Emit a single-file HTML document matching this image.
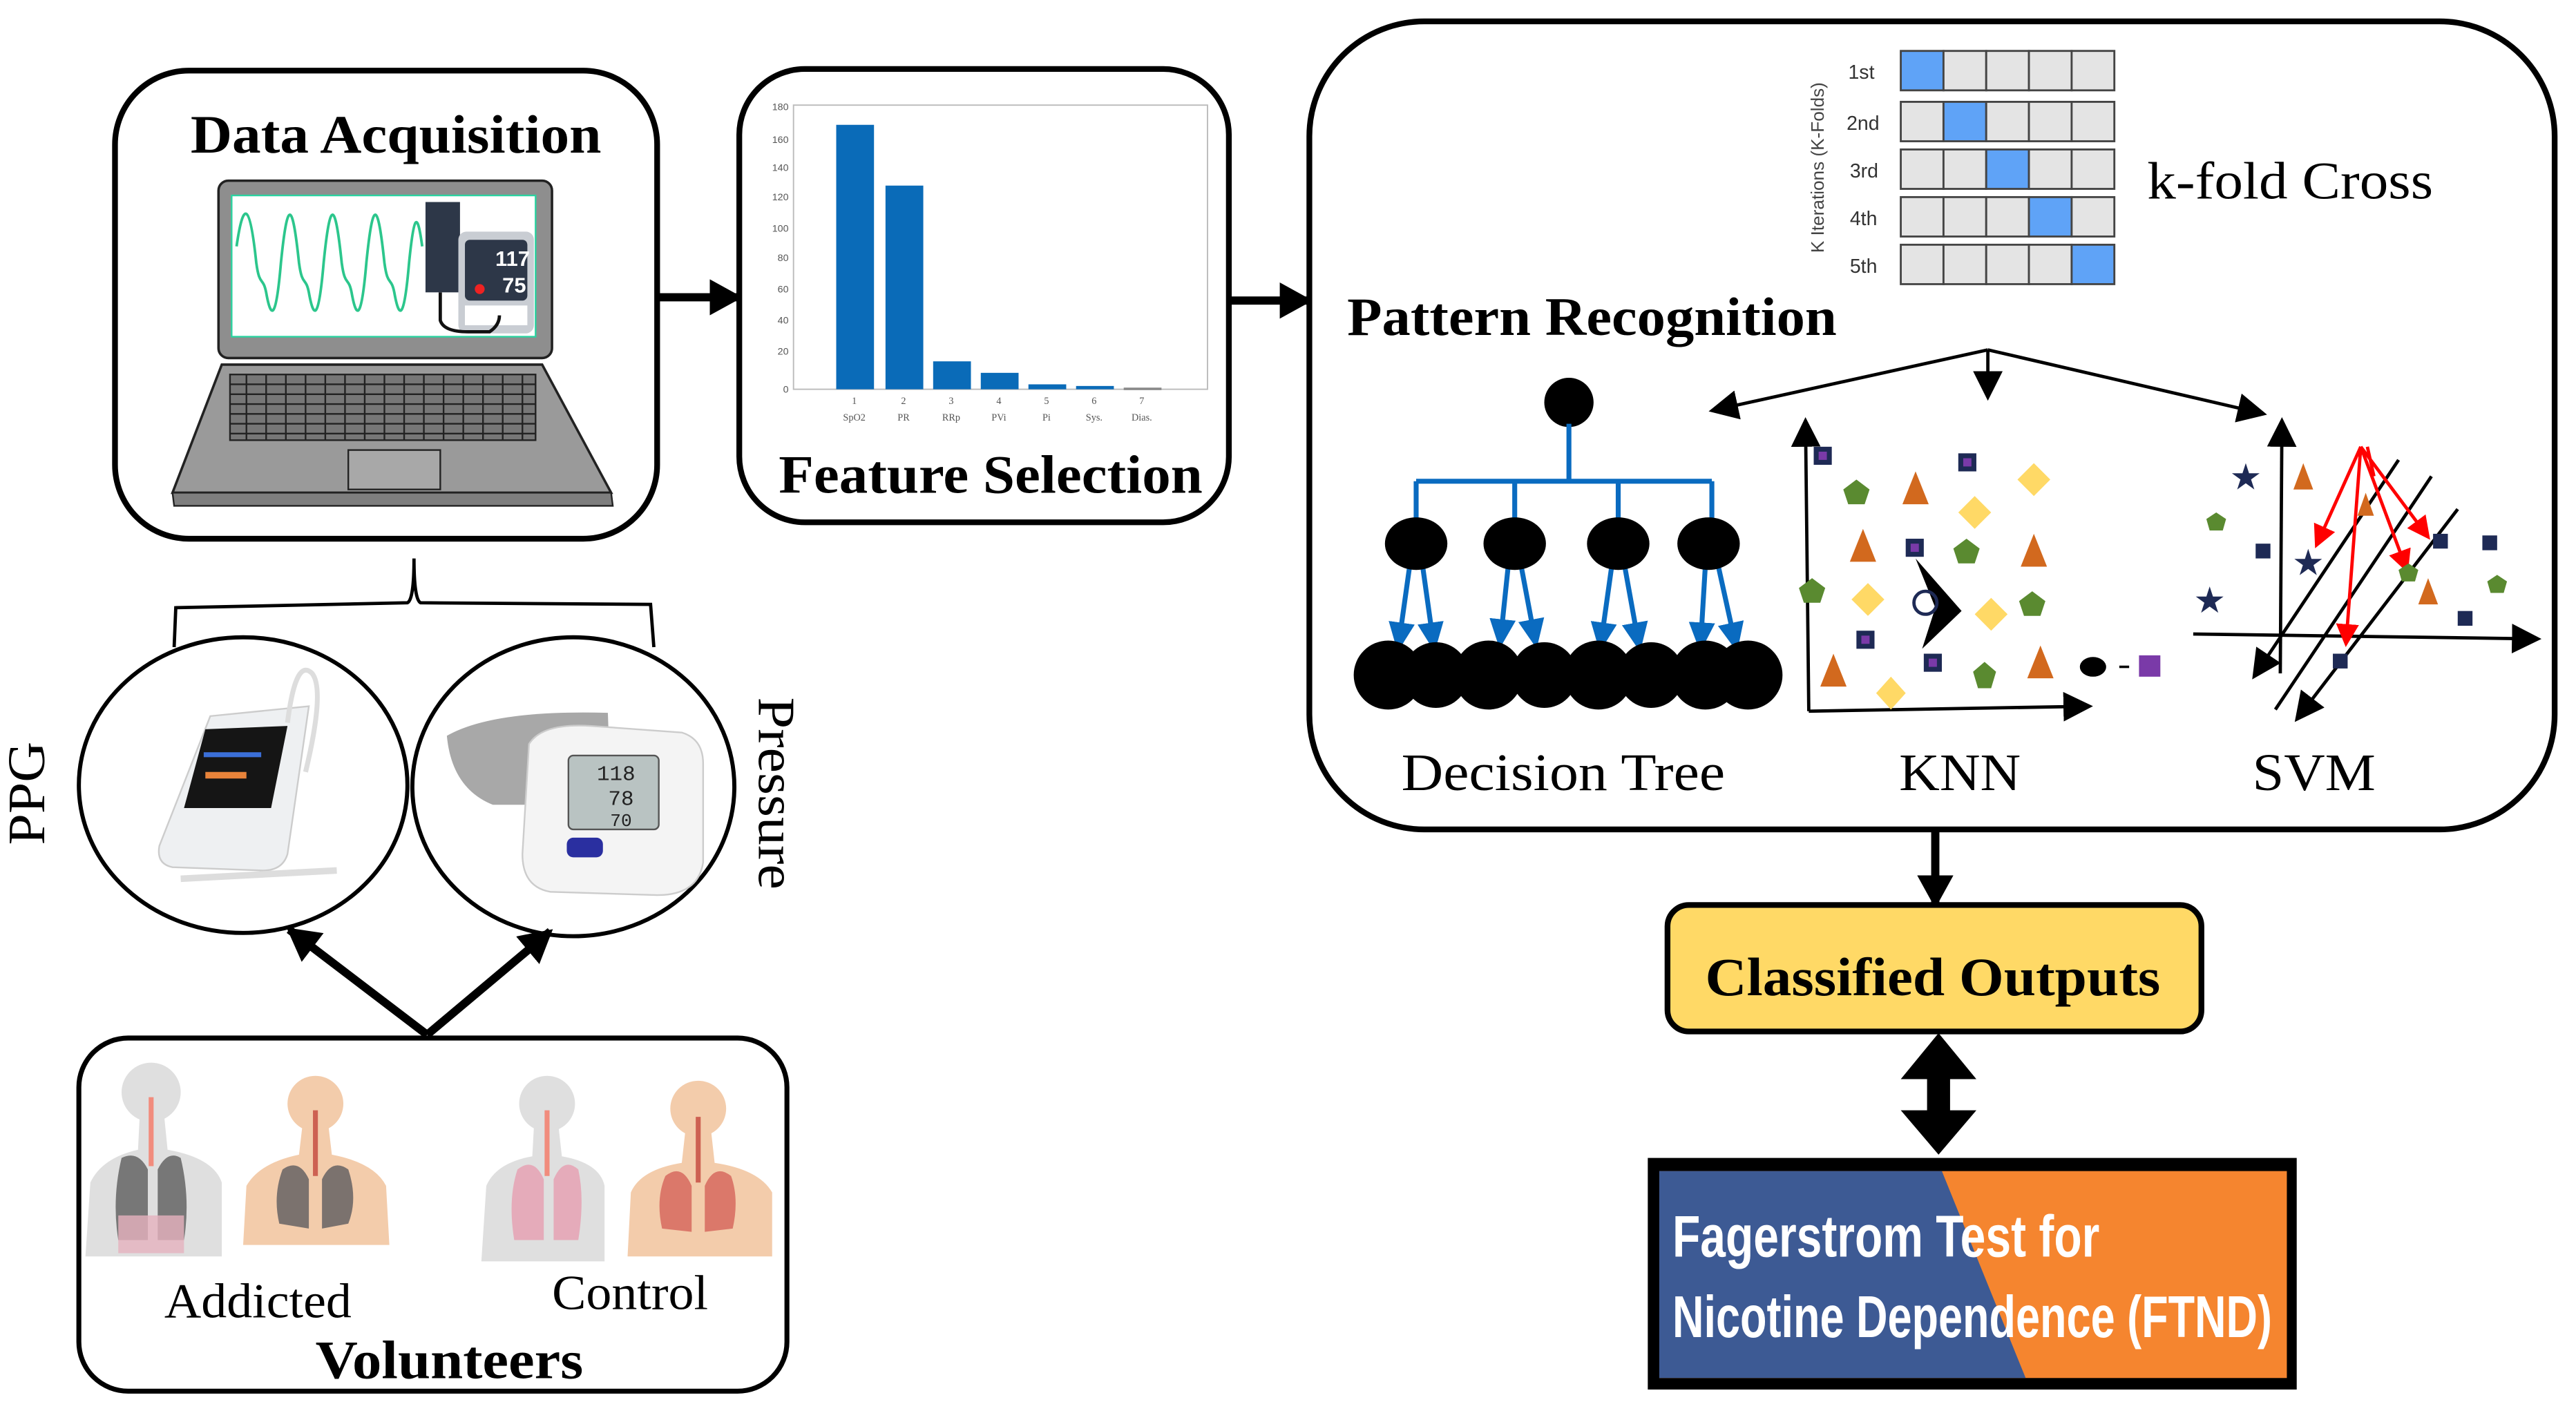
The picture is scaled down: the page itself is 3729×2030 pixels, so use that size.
<!DOCTYPE html>
<html><head><meta charset="utf-8"><style>html,body{margin:0;padding:0;background:#fff}svg{display:block}</style></head>
<body>
<svg width="3729" height="2030" viewBox="0 0 1568 853.6" preserveAspectRatio="none" xmlns="http://www.w3.org/2000/svg" font-family="Liberation Serif, serif">
<defs>
<marker id="ab" markerWidth="20" markerHeight="22" refX="18" refY="11" orient="auto" markerUnits="userSpaceOnUse"><path d="M0,0 L20,11 L0,22z" fill="#000"/></marker>
<marker id="am" markerWidth="18" markerHeight="18" refX="16" refY="9" orient="auto" markerUnits="userSpaceOnUse"><path d="M0,0 L18,9 L0,18z" fill="#000"/></marker>
<marker id="abl" markerWidth="18" markerHeight="16" refX="16" refY="8" orient="auto" markerUnits="userSpaceOnUse"><path d="M0,0 L18,8 L0,16z" fill="#0a6bc0"/></marker>
<marker id="ar" markerWidth="14" markerHeight="14" refX="12" refY="7" orient="auto" markerUnits="userSpaceOnUse"><path d="M0,0 L14,7 L0,14z" fill="#f00"/></marker>
</defs>

<!-- Data Acquisition -->
<rect x="70" y="43" width="330" height="285" rx="45" fill="#fff" stroke="#000" stroke-width="3.5"/>
<text x="116" y="93" font-size="33" font-weight="bold" textLength="250" lengthAdjust="spacingAndGlyphs">Data Acquisition</text>
<!-- laptop -->
<rect x="133" y="110" width="203" height="108" rx="6" fill="#8e8e8e" stroke="#222" stroke-width="1.5"/>
<rect x="141" y="119" width="185" height="86" fill="#fff" stroke="#2bd3a0" stroke-width="1"/>
<path d="M144,150 C148,122 152,122 156,160 C158,175 160,168 162,178 C165,195 168,195 171,160 C175,120 178,122 182,160 C184,175 186,168 188,178 C191,195 194,195 197,160 C201,120 204,122 208,160 C210,175 212,168 214,178 C217,195 220,195 223,160 C227,120 230,122 234,160 C236,175 238,168 240,178 C243,195 246,195 249,160 C252,130 254,128 257,150" fill="none" stroke="#2cc68c" stroke-width="1.6"/>
<rect x="259" y="123" width="21" height="55" fill="#2d3748"/>
<rect x="279" y="141" width="46" height="62" rx="5" fill="#c9cdd3"/>
<rect x="283" y="146" width="38" height="37" rx="3" fill="#2d3748"/>
<text x="312" y="162" font-family="Liberation Sans Narrow, Liberation Sans, sans-serif" font-size="13" font-weight="bold" fill="#fff" text-anchor="middle">117</text>
<text x="313" y="178" font-family="Liberation Sans Narrow, Liberation Sans, sans-serif" font-size="13" font-weight="bold" fill="#fff" text-anchor="middle">75</text>
<circle cx="292" cy="176" r="3" fill="#e22"/>
<rect x="283" y="186" width="38" height="12" fill="#fff"/>
<path d="M268,178 L268,195 Q270,202 285,202 L298,202 Q304,198 304,192" fill="none" stroke="#111" stroke-width="2"/>
<path d="M135,222 L330,222 L372,300 L105,300 Z" fill="#9a9a9a" stroke="#222" stroke-width="1.5"/>
<path d="M105,300 L372,300 L373,308 L106,308 Z" fill="#7e7e7e" stroke="#222" stroke-width="1"/>
<g stroke="#222" stroke-width="1" fill="none">
<rect x="140" y="228" width="186" height="40" fill="#777"/>
<path d="M140,234h186M140,240h186M140,246h186M140,252h186M140,258h186M140,264h186"/>
<path d="M150,228v40M162,228v40M174,228v40M186,228v40M198,228v40M210,228v40M222,228v40M234,228v40M246,228v40M258,228v40M270,228v40M282,228v40M294,228v40M306,228v40M318,228v40"/>
<rect x="212" y="274" width="56" height="24" fill="#a8a8a8"/>
</g>

<line x1="400" y1="181" x2="450" y2="181" stroke="#000" stroke-width="5" marker-end="url(#ab)"/>

<!-- Feature Selection -->
<rect x="450" y="42" width="298" height="276" rx="40" fill="#fff" stroke="#000" stroke-width="3.5"/>
<rect x="483" y="64" width="252" height="173" fill="none" stroke="#bbb" stroke-width="0.8"/>
<g font-family="Liberation Sans, sans-serif" font-size="6" fill="#555" text-anchor="end">
<text x="480" y="67">180</text><text x="480" y="87">160</text><text x="480" y="104">140</text><text x="480" y="122">120</text><text x="480" y="141">100</text><text x="480" y="159">80</text><text x="480" y="178">60</text><text x="480" y="197">40</text><text x="480" y="216">20</text><text x="480" y="239">0</text>
</g>
<g fill="#0a6bb8">
<rect x="509" y="76" width="23" height="161"/><rect x="539" y="113" width="23" height="124"/><rect x="568" y="220" width="23" height="17"/><rect x="597" y="227" width="23" height="10"/><rect x="626" y="234" width="23" height="3"/><rect x="655" y="235" width="23" height="2"/><rect x="684" y="236" width="23" height="1.5" fill="#888"/>
</g>
<g font-size="6" fill="#555" text-anchor="middle">
<text x="520" y="246">1</text><text x="550" y="246">2</text><text x="579" y="246">3</text><text x="608" y="246">4</text><text x="637" y="246">5</text><text x="666" y="246">6</text><text x="695" y="246">7</text>
<text x="520" y="256">SpO2</text><text x="550" y="256">PR</text><text x="579" y="256">RRp</text><text x="608" y="256">PVi</text><text x="637" y="256">Pi</text><text x="666" y="256">Sys.</text><text x="695" y="256">Dias.</text>
</g>
<text x="474" y="300" font-size="33" font-weight="bold" textLength="258" lengthAdjust="spacingAndGlyphs">Feature Selection</text>

<line x1="748" y1="183" x2="797" y2="183" stroke="#000" stroke-width="5" marker-end="url(#ab)"/>

<!-- Pattern Recognition -->
<rect x="797" y="13" width="758" height="492" rx="70" fill="#fff" stroke="#000" stroke-width="3.5"/>
<text x="1110" y="102" font-family="Liberation Sans, sans-serif" font-size="11" fill="#444" text-anchor="middle" transform="rotate(-90 1110 102)">K Iterations (K-Folds)</text>
<g font-family="Liberation Sans, sans-serif" font-size="12" fill="#333">
<text x="1125" y="48">1st</text><text x="1124" y="79">2nd</text><text x="1126" y="108">3rd</text><text x="1126" y="137">4th</text><text x="1126" y="166">5th</text>
</g>
<g stroke="#444" stroke-width="1.2" fill="#e4e4e4">
<g transform="translate(1157,31)"><rect width="26" height="24" fill="#5fa3f7"/><rect x="26" width="26" height="24"/><rect x="52" width="26" height="24"/><rect x="78" width="26" height="24"/><rect x="104" width="26" height="24"/></g>
<g transform="translate(1157,62)"><rect width="26" height="24"/><rect x="26" width="26" height="24" fill="#5fa3f7"/><rect x="52" width="26" height="24"/><rect x="78" width="26" height="24"/><rect x="104" width="26" height="24"/></g>
<g transform="translate(1157,91)"><rect width="26" height="24"/><rect x="26" width="26" height="24"/><rect x="52" width="26" height="24" fill="#5fa3f7"/><rect x="78" width="26" height="24"/><rect x="104" width="26" height="24"/></g>
<g transform="translate(1157,120)"><rect width="26" height="24"/><rect x="26" width="26" height="24"/><rect x="52" width="26" height="24"/><rect x="78" width="26" height="24" fill="#5fa3f7"/><rect x="104" width="26" height="24"/></g>
<g transform="translate(1157,149)"><rect width="26" height="24"/><rect x="26" width="26" height="24"/><rect x="52" width="26" height="24"/><rect x="78" width="26" height="24"/><rect x="104" width="26" height="24" fill="#5fa3f7"/></g>
</g>
<text x="1307" y="121" font-size="32" textLength="174" lengthAdjust="spacingAndGlyphs">k-fold Cross</text>
<text x="820" y="204" font-size="33" font-weight="bold" textLength="298" lengthAdjust="spacingAndGlyphs">Pattern Recognition</text>

<g stroke="#000" stroke-width="2" fill="none">
<line x1="1210" y1="213" x2="1042" y2="250" marker-end="url(#am)"/>
<line x1="1210" y1="213" x2="1210" y2="242" marker-end="url(#am)"/>
<line x1="1210" y1="213" x2="1378" y2="252" marker-end="url(#am)"/>
</g>

<!-- Decision Tree -->
<ellipse cx="955" cy="245" rx="15" ry="15"/>
<g stroke="#0a6bc0" stroke-width="3" fill="none">
<path d="M955,258 V293 M862,293 H1042 M862,293 V318 M922,293 V318 M985,293 V318 M1042,293 V318"/>
<g stroke-width="3">
<line x1="858" y1="345" x2="851" y2="395" marker-end="url(#abl)"/><line x1="866" y1="345" x2="873" y2="395" marker-end="url(#abl)"/>
<line x1="918" y1="345" x2="913" y2="393" marker-end="url(#abl)"/><line x1="926" y1="345" x2="935" y2="393" marker-end="url(#abl)"/>
<line x1="981" y1="345" x2="974" y2="395" marker-end="url(#abl)"/><line x1="989" y1="345" x2="998" y2="395" marker-end="url(#abl)"/>
<line x1="1038" y1="345" x2="1035" y2="395" marker-end="url(#abl)"/><line x1="1046" y1="345" x2="1057" y2="395" marker-end="url(#abl)"/>
</g></g>
<g fill="#000">
<ellipse cx="862" cy="331" rx="19" ry="16"/><ellipse cx="922" cy="331" rx="19" ry="16"/><ellipse cx="985" cy="331" rx="19" ry="16"/><ellipse cx="1040" cy="331" rx="19" ry="16"/>
<circle cx="845" cy="411" r="21"/><circle cx="874" cy="411" r="20"/><circle cx="906" cy="411" r="21"/><circle cx="940" cy="411" r="20"/><circle cx="973" cy="411" r="21"/><circle cx="1005" cy="411" r="20"/><circle cx="1038" cy="411" r="21"/><circle cx="1064" cy="411" r="21"/>
</g>
<text x="853" y="481" font-size="32" textLength="197" lengthAdjust="spacingAndGlyphs">Decision Tree</text>

<!-- KNN -->
<g stroke="#000" stroke-width="2" fill="none">
<line x1="1101" y1="433" x2="1099" y2="256" marker-end="url(#am)"/>
<line x1="1101" y1="433" x2="1272" y2="430" marker-end="url(#am)"/>
</g>
<g>
<g fill="#1e2a55"><rect x="1104" y="272" width="11" height="11"/><rect x="1192" y="276" width="11" height="11"/><rect x="1160" y="328" width="11" height="11"/><rect x="1130" y="384" width="11" height="11"/><rect x="1171" y="398" width="11" height="11"/></g>
<g fill="#7a3aa8"><rect x="1107" y="275" width="5" height="5"/><rect x="1195" y="279" width="5" height="5"/><rect x="1163" y="331" width="5" height="5"/><rect x="1133" y="387" width="5" height="5"/><rect x="1174" y="401" width="5" height="5"/><rect x="1302" y="399" width="13" height="13"/></g>
<g fill="#5a8a30"><path d="M1130,292 l8,6 -3,9 -10,0 -3,-9z"/><path d="M1103,352 l8,6 -3,9 -10,0 -3,-9z"/><path d="M1197,328 l8,6 -3,9 -10,0 -3,-9z"/><path d="M1237,360 l8,6 -3,9 -10,0 -3,-9z"/><path d="M1208,403 l7,6 -3,10 -8,0 -3,-10z"/></g>
<g fill="#d2691e"><path d="M1166,287 l8,20 -16,0z"/><path d="M1134,322 l8,20 -16,0z"/><path d="M1238,325 l8,20 -16,0z"/><path d="M1116,398 l8,20 -16,0z"/><path d="M1242,393 l8,20 -16,0z"/></g>
<g fill="#ffd966"><path d="M1238,282 l10,10 -10,10 -10,-10z"/><path d="M1202,302 l10,10 -10,10 -10,-10z"/><path d="M1137,355 l10,10 -10,10 -10,-10z"/><path d="M1212,364 l10,10 -10,10 -10,-10z"/><path d="M1151,412 l9,10 -9,10 -9,-10z"/></g>
<path d="M1166,340 L1194,372 L1170,395 L1178,370 Z" fill="#000"/>
<circle cx="1172" cy="367" r="7" fill="none" stroke="#1e2a55" stroke-width="2"/>
<ellipse cx="1274" cy="406" rx="8" ry="6" fill="#000"/>
<line x1="1290" y1="406" x2="1296" y2="406" stroke="#000" stroke-width="1.5"/>
</g>
<text x="1156" y="481" font-size="32" textLength="74" lengthAdjust="spacingAndGlyphs">KNN</text>

<!-- SVM -->
<g stroke="#000" stroke-width="2" fill="none">
<line x1="1388" y1="410" x2="1389" y2="256" marker-end="url(#am)"/>
<line x1="1335" y1="386" x2="1545" y2="389" marker-end="url(#am)"/>
<line x1="1460" y1="280" x2="1372" y2="412" marker-end="url(#am)"/>
<line x1="1480" y1="290" x2="1385" y2="432"/>
<line x1="1496" y1="310" x2="1398" y2="438" marker-end="url(#am)"/>
</g>
<g stroke="#f00" stroke-width="2">
<line x1="1437" y1="272" x2="1410" y2="332" marker-end="url(#ar)"/>
<line x1="1437" y1="272" x2="1428" y2="392" marker-end="url(#ar)"/>
<line x1="1437" y1="272" x2="1465" y2="347" marker-end="url(#ar)"/>
<line x1="1437" y1="272" x2="1478" y2="327" marker-end="url(#ar)"/>
<line x1="1441" y1="272" x2="1445" y2="290"/>
</g>
<g fill="#1e2a55">
<text x="1367" y="298" font-size="22" text-anchor="middle" font-family="DejaVu Sans, sans-serif">★</text>
<text x="1405" y="350" font-size="22" text-anchor="middle" font-family="DejaVu Sans, sans-serif">★</text>
<text x="1345" y="373" font-size="22" text-anchor="middle" font-family="DejaVu Sans, sans-serif">★</text>
<rect x="1373" y="331" width="9" height="9"/><rect x="1481" y="325" width="9" height="9"/><rect x="1511" y="326" width="9" height="9"/><rect x="1496" y="372" width="9" height="9"/><rect x="1420" y="398" width="9" height="9"/>
</g>
<g fill="#d2691e"><path d="M1402,282 l6,16 -12,0z"/><path d="M1478,352 l6,16 -12,0z"/><path d="M1440,300 l5,14 -10,0z"/></g>
<g fill="#5a8a30"><path d="M1349,312 l6,4 -2,7 -8,0 -2,-7z"/><path d="M1466,343 l6,4 -2,7 -8,0 -2,-7z"/><path d="M1520,350 l6,4 -2,7 -8,0 -2,-7z"/></g>
<text x="1371" y="481" font-size="32" textLength="75" lengthAdjust="spacingAndGlyphs">SVM</text>

<line x1="1178" y1="505" x2="1178" y2="551" stroke="#000" stroke-width="5" marker-end="url(#ab)"/>
<rect x="1015" y="551" width="325" height="77" rx="13" fill="#ffd966" stroke="#000" stroke-width="3.5"/>
<text x="1038" y="606" font-size="33" font-weight="bold" textLength="277" lengthAdjust="spacingAndGlyphs">Classified Outputs</text>
<path d="M1180,629 L1203,657 L1187,657 L1187,676 L1203,676 L1180,703 L1157,676 L1173,676 L1173,657 L1157,657 Z" fill="#000"/>

<!-- FTND -->
<rect x="1003" y="705" width="395" height="141" fill="#000"/>
<rect x="1010" y="713" width="382" height="126" fill="#f5852f"/>
<path d="M1010,713 L1182,713 L1233,839 L1010,839 Z" fill="#3d5a94"/>
<g font-family="Liberation Sans Narrow, Liberation Sans, sans-serif" font-weight="bold" fill="#fff" font-size="36">
<text x="1018" y="765" textLength="260" lengthAdjust="spacingAndGlyphs">Fagerstrom Test for</text>
<text x="1018" y="814" textLength="365" lengthAdjust="spacingAndGlyphs">Nicotine Dependence (FTND)</text>
</g>

<!-- brace -->
<path d="M106,394 L107,370 L248,367 Q252,365 252,340 Q252,365 256,367 L396,368 L398,394" fill="none" stroke="#000" stroke-width="2"/>

<ellipse cx="148" cy="478" rx="100" ry="90" fill="#fff" stroke="#000" stroke-width="2.5"/>
<ellipse cx="349" cy="479" rx="98" ry="91" fill="#fff" stroke="#000" stroke-width="2.5"/>
<path d="M128,436 L188,430 L175,520 Q172,530 160,530 L105,528 Q95,526 97,515 Z" fill="#eef0f2" stroke="#ccc" stroke-width="1"/>
<path d="M125,444 L175,442 L165,492 L112,492 Z" fill="#151515"/>
<rect x="125" y="470" width="25" height="4" fill="#e8833a"/>
<rect x="124" y="458" width="35" height="3" fill="#3b6fd8"/>
<path d="M175,440 Q180,400 190,410 Q198,420 186,470" fill="none" stroke="#ddd" stroke-width="3"/>
<path d="M110,535 L205,530" stroke="#ddd" stroke-width="4"/>
<path d="M272,448 Q300,432 370,434 L372,490 L300,490 Q275,480 272,448 Z" fill="#a8a8a8"/>
<path d="M322,453 Q330,440 360,442 L415,446 Q428,450 428,465 L428,525 Q425,545 400,545 L335,543 Q318,540 318,520 Z" fill="#f4f4f4" stroke="#ccc"/>
<rect x="346" y="460" width="55" height="45" rx="3" fill="#b9c3c2" stroke="#555"/>
<text x="375" y="475" font-family="Liberation Mono, monospace" font-size="13" text-anchor="middle" fill="#222">118</text>
<text x="378" y="490" font-family="Liberation Mono, monospace" font-size="13" text-anchor="middle" fill="#222">78</text>
<text x="378" y="503" font-family="Liberation Mono, monospace" font-size="11" text-anchor="middle" fill="#222">70</text>
<rect x="345" y="510" width="22" height="12" rx="4" fill="#2a2fa0"/>
<text x="27" y="483" font-size="32" text-anchor="middle" textLength="63" lengthAdjust="spacingAndGlyphs" transform="rotate(-90 27 483)">PPG</text>
<text x="462" y="483" font-size="32" text-anchor="middle" textLength="117" lengthAdjust="spacingAndGlyphs" transform="rotate(90 462 483)">Pressure</text>

<g stroke="#000" stroke-width="5" fill="none">
<line x1="260" y1="630" x2="176" y2="566" marker-end="url(#ab)"/>
<line x1="260" y1="630" x2="335" y2="567" marker-end="url(#ab)"/>
</g>

<!-- Volunteers -->
<rect x="48" y="632" width="431" height="215" rx="30" fill="#fff" stroke="#000" stroke-width="3"/>
<g opacity="0.9">
<circle cx="92" cy="665" r="18" fill="#dcdcdc"/><path d="M85,680 L100,680 L102,700 Q130,705 135,720 L135,765 L52,765 L55,720 Q62,705 84,700 Z" fill="#dcdcdc"/>
<path d="M74,705 Q84,700 90,712 L90,755 L72,755 Q68,730 74,705 Z M96,712 Q102,700 110,705 Q116,730 112,755 L96,755 Z" fill="#555" opacity="0.85"/>
<path d="M72,740 L112,740 L112,763 L72,763 Z" fill="#e3aab8" opacity="0.8"/>
<path d="M92,668 L92,710" stroke="#f08070" stroke-width="3"/>
<circle cx="192" cy="672" r="17" fill="#f2c7a3"/><path d="M184,686 L200,686 L202,703 Q228,708 235,722 L237,758 L148,758 L150,722 Q158,708 182,703 Z" fill="#f2c7a3"/>
<path d="M172,712 Q182,705 188,718 L188,748 L170,745 Q166,728 172,712 Z M196,718 Q202,705 212,712 Q218,730 212,745 L196,748 Z" fill="#5e5858" opacity="0.9"/>
<path d="M192,676 L192,716" stroke="#c85040" stroke-width="3"/>
<circle cx="333" cy="672" r="17" fill="#dcdcdc"/><path d="M325,686 L340,686 L342,704 Q365,708 368,722 L368,768 L293,768 L296,722 Q302,708 324,704 Z" fill="#dcdcdc"/>
<path d="M315,712 Q325,704 331,718 L331,755 L313,755 Q309,730 315,712 Z M337,718 Q343,704 352,712 Q356,730 352,755 L337,755 Z" fill="#e3a3b3"/>
<path d="M333,676 L333,716" stroke="#f08070" stroke-width="3"/>
<circle cx="425" cy="675" r="17" fill="#f2c7a3"/><path d="M417,690 L433,690 L435,708 Q462,712 470,726 L470,765 L382,765 L384,726 Q390,712 415,708 Z" fill="#f2c7a3"/>
<path d="M405,716 Q415,708 421,722 L421,750 L403,748 Q399,730 405,716 Z M429,722 Q435,708 445,716 Q450,730 446,748 L429,750 Z" fill="#d86a5a"/>
<path d="M425,680 L425,720" stroke="#c85040" stroke-width="3"/>
</g>
<text x="100" y="802" font-size="30" textLength="114" lengthAdjust="spacingAndGlyphs">Addicted</text>
<text x="336" y="797" font-size="30" textLength="95" lengthAdjust="spacingAndGlyphs">Control</text>
<text x="192" y="839" font-size="33" font-weight="bold" textLength="163" lengthAdjust="spacingAndGlyphs">Volunteers</text>
</svg>
</body></html>
